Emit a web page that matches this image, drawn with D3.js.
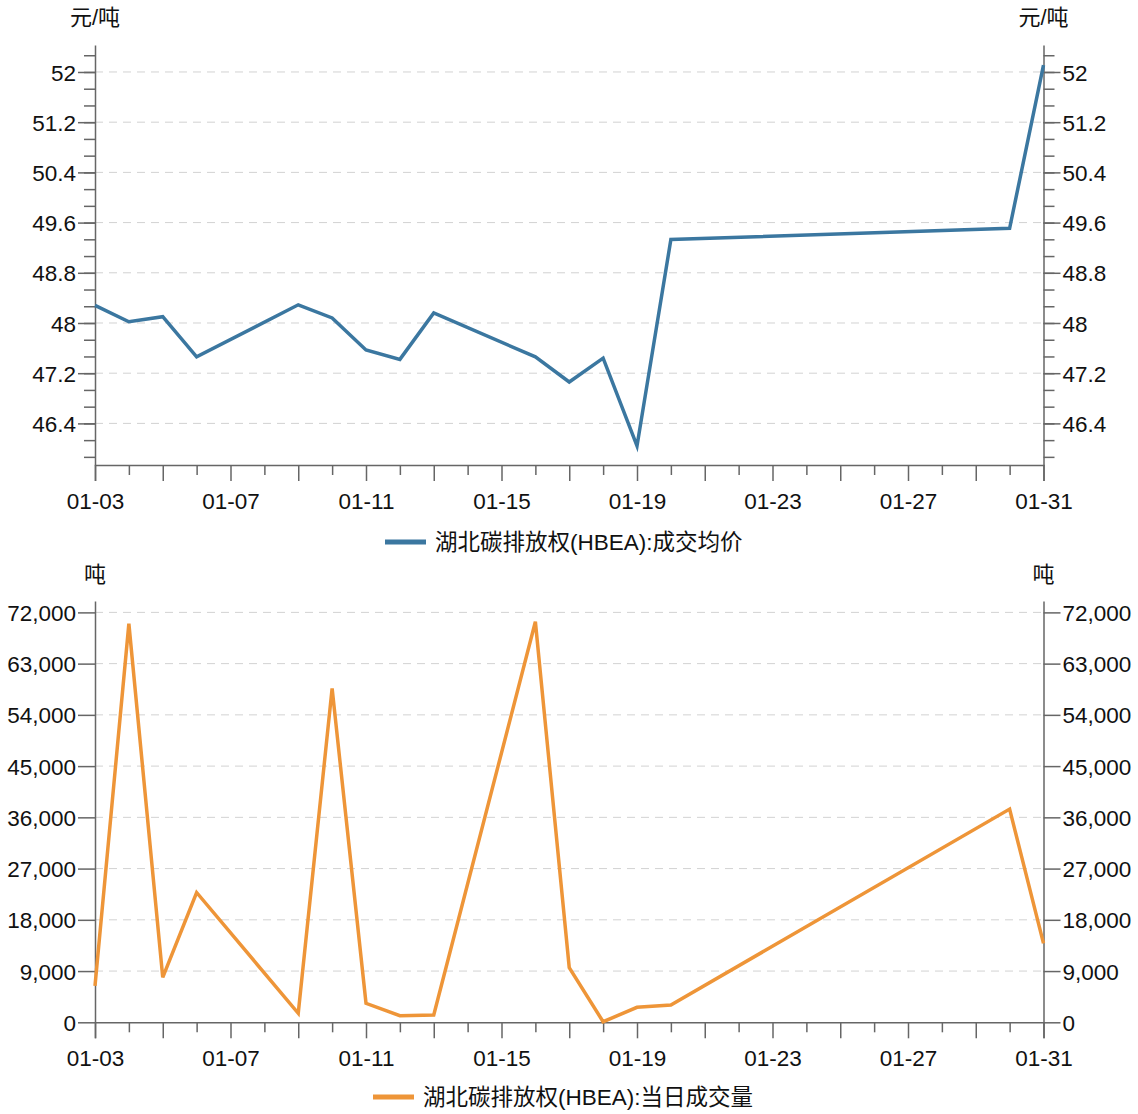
<!DOCTYPE html>
<html>
<head>
    <meta charset="utf-8">
    <title>湖北碳排放权(HBEA)</title>
    <script src="https://d3js.org/d3.v7.min.js"></script>
    <style>
        body { margin: 0; background: #fff; }
        svg text { font-family: "Liberation Sans", "Noto Sans CJK SC", sans-serif; fill: #111; }
        .grid line { stroke: #d2d2d2; stroke-dasharray: 8,6; }
    </style>
</head>
<body>
    <div id="chart"></div>
    <script>
        // data
        const priceDates = ["2023-01-03", "2023-01-04", "2023-01-05", "2023-01-06", "2023-01-09", "2023-01-10",
            "2023-01-11", "2023-01-12", "2023-01-13", "2023-01-16", "2023-01-17", "2023-01-18",
            "2023-01-19", "2023-01-20", "2023-01-30", "2023-01-31"];
        const priceValues = [48.28, 48.02, 48.1, 47.46, 48.29, 48.08, 47.57, 47.42, 48.16, 47.46, 47.06, 47.44,
            46.04, 49.33, 49.51, 52.11];
        const volumeValues = [6400, 70000, 7900, 22800, 1580, 58650, 3340, 1160, 1280, 70350, 9600, 100,
            2630, 3040, 37450, 13870];
        const priceTicks = [46.4, 47.2, 48, 48.8, 49.6, 50.4, 51.2, 52];
        const volumeTicks = [0, 9000, 18000, 27000, 36000, 45000, 54000, 63000, 72000];
        const priceName = "湖北碳排放权(HBEA):成交均价";
        const volumeName = "湖北碳排放权(HBEA):当日成交量";

        const parse = d3.timeParse("%Y-%m-%d");
        const dates = priceDates.map(parse);

        const W = 1138, H = 1114;
        const left = 95, right = 1043.5;
        const svg = d3.select("#chart").append("svg")
            .attr("width", W)
            .attr("height", H);

        const x = d3.scaleTime()
            .domain([parse("2023-01-03"), parse("2023-01-31")])
            .range([left, right]);

        function drawPanel(opt) {
            const g = svg.append("g");
            const y = d3.scaleLinear().domain(opt.domain).range([opt.bottom, opt.top]);

            // grid
            g.append("g").attr("class", "grid")
                .selectAll("line")
                .data(opt.ticks.filter(d => d > opt.domain[0]))
                .enter().append("line")
                .attr("x1", left).attr("x2", right)
                .attr("y1", d => y(d)).attr("y2", d => y(d));

            // y axes, left and right
            [[d3.axisLeft, left], [d3.axisRight, right]].forEach(([ax, px]) => {
                if (opt.minor) {
                    g.append("g").attr("transform", `translate(${px},0)`)
                        .call(ax(y).tickValues(opt.minor).tickSize(11).tickFormat(""))
                        .call(s => s.select(".domain").remove());
                }
                g.append("g").attr("transform", `translate(${px},0)`)
                    .call(ax(y).tickValues(opt.ticks).tickSize(17).tickSizeOuter(0).tickPadding(2).tickFormat(opt.fmt))
                    .call(s => s.selectAll("text").attr("font-size", 22.5).attr("dy", "0.36em"));
            });

            // x axis
            const days = d3.timeDay.range(x.domain()[0], d3.timeDay.offset(x.domain()[1], 1));
            const ax = g.append("g").attr("transform", `translate(0,${opt.bottom})`);
            ax.call(d3.axisBottom(x).tickValues(days.filter(d => d.getDate() % 2 === 0)).tickSize(10).tickFormat(""))
                .call(s => s.select(".domain").remove());
            ax.append("g")
                .call(d3.axisBottom(x).tickValues(days.filter(d => d.getDate() % 2 === 1)).tickSizeOuter(0)
                    .tickSize(16).tickPadding(12)
                    .tickFormat(d => (d.getDate() - 3) % 4 === 0 ? d3.timeFormat("%m-%d")(d) : ""))
                .call(s => s.selectAll("text").attr("font-size", 22.5));
            g.selectAll(".domain, .tick line").attr("stroke", "#666").attr("stroke-width", 1.5);

            // units
            [left, right].forEach(px => {
                g.append("text").attr("x", px).attr("y", opt.unitY)
                    .attr("text-anchor", "middle").attr("font-size", 22)
                    .text(opt.unit);
            });

            // line
            g.append("path")
                .datum(opt.values)
                .attr("fill", "none")
                .attr("stroke", opt.color)
                .attr("stroke-width", 3.5)
                .attr("d", d3.line().x((d, i) => x(dates[i])).y(d => y(d)));

            // legend
            const lg = g.append("g").attr("transform", `translate(${opt.legendX},${opt.legendY})`);
            lg.append("line").attr("x1", 0).attr("x2", 41).attr("y1", 0).attr("y2", 0)
                .attr("stroke", opt.color).attr("stroke-width", 5);
            lg.append("text").attr("x", 50).attr("y", 0).attr("dy", "0.36em")
                .attr("font-size", 22.5).text(opt.name);
        }

        const priceDomain = [45.737, 52.43];
        drawPanel({
            top: 45, bottom: 465, domain: priceDomain,
            ticks: priceTicks,
            minor: d3.range(0, 26).map(i => 45.6 + i * 0.8 / 3).filter(v => v > priceDomain[0] && v < priceDomain[1]),
            fmt: d => d3.format("~g")(d),
            values: priceValues, color: "#3b77a0",
            unit: "元/吨", unitY: 25,
            name: priceName, legendX: 385, legendY: 542
        });

        drawPanel({
            top: 601, bottom: 1022.3, domain: [0, 74000],
            ticks: volumeTicks,
            minor: null,
            fmt: d3.format(","),
            values: volumeValues, color: "#ee9538",
            unit: "吨", unitY: 582,
            name: volumeName, legendX: 373, legendY: 1097
        });
    </script>
</body>
</html>
